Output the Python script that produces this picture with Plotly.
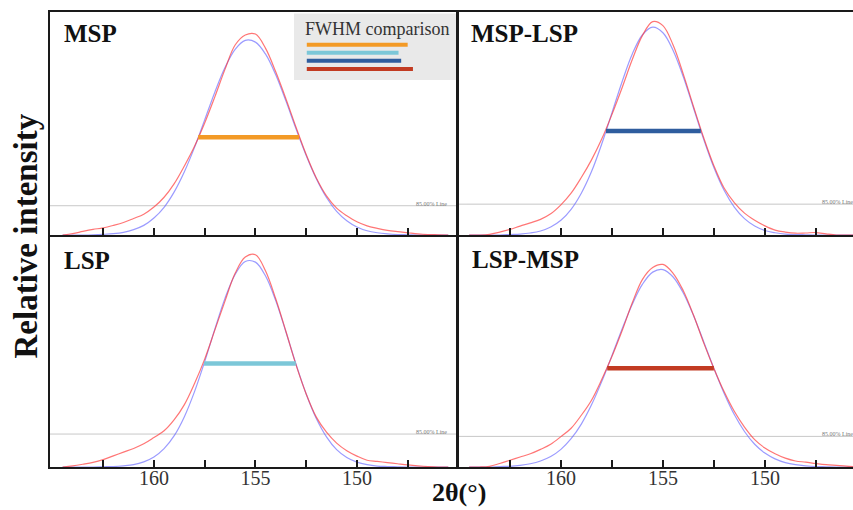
import plotly.graph_objects as go

# 2θ sampling grid (degrees, high to low)
two_theta = [164.5, 164.0, 163.5, 163.0, 162.5, 162.0, 161.5, 161.0, 160.5, 160.0,
             159.5, 159.0, 158.5, 158.0, 157.5, 157.0, 156.5, 156.0, 155.5, 155.0,
             154.5, 154.0, 153.5, 153.0, 152.5, 152.0, 151.5, 151.0, 150.5, 150.0,
             149.5, 149.0, 148.5, 148.0, 147.5, 147.0, 146.5, 146.0, 145.5]

samples = ["MSP", "LSP", "MSP-LSP", "LSP-MSP"]

# measured diffraction profiles (relative intensity)
measured_msp = [0.0, 0.006, 0.016, 0.025, 0.032, 0.043, 0.056, 0.074, 0.093, 0.125,
                0.169, 0.230, 0.309, 0.397, 0.501, 0.618, 0.741, 0.850, 0.895, 0.899,
                0.835, 0.730, 0.610, 0.482, 0.360, 0.255, 0.175, 0.120, 0.086, 0.059,
                0.041, 0.030, 0.021, 0.015, 0.010, 0.005, 0.002, 0.001, 0.0]
measured_lsp = [0.0, 0.005, 0.012, 0.020, 0.032, 0.048, 0.064, 0.080, 0.100, 0.127,
                0.156, 0.204, 0.269, 0.360, 0.465, 0.590, 0.715, 0.835, 0.905, 0.915,
                0.845, 0.725, 0.585, 0.440, 0.315, 0.215, 0.150, 0.103, 0.070, 0.047,
                0.029, 0.024, 0.019, 0.014, 0.009, 0.005, 0.002, 0.0, 0.0]
measured_msp_lsp = [0.0, 0.0, 0.003, 0.013, 0.025, 0.040, 0.054, 0.070, 0.095, 0.135,
                    0.187, 0.257, 0.336, 0.429, 0.539, 0.659, 0.785, 0.893, 0.955, 0.937,
                    0.850, 0.720, 0.575, 0.435, 0.310, 0.210, 0.145, 0.098, 0.066, 0.041,
                    0.022, 0.013, 0.008, 0.009, 0.011, 0.005, 0.0, 0.0, 0.0]
measured_lsp_msp = [0.0, 0.0, 0.003, 0.015, 0.029, 0.043, 0.057, 0.076, 0.098, 0.131,
                    0.167, 0.223, 0.288, 0.377, 0.476, 0.587, 0.708, 0.809, 0.860, 0.873,
                    0.835, 0.760, 0.655, 0.535, 0.425, 0.325, 0.240, 0.172, 0.118, 0.082,
                    0.057, 0.038, 0.026, 0.021, 0.015, 0.010, 0.007, 0.004, 0.0]

# fitted profiles
fitted_msp = [0.0, 0.0, 0.0, 0.001, 0.003, 0.006, 0.012, 0.024, 0.043, 0.076,
              0.124, 0.193, 0.283, 0.392, 0.515, 0.639, 0.749, 0.831, 0.871, 0.863,
              0.809, 0.717, 0.600, 0.475, 0.356, 0.252, 0.168, 0.106, 0.064, 0.036,
              0.019, 0.010, 0.005, 0.002, 0.001, 0.0, 0.0, 0.0, 0.0]
fitted_lsp = [0.0, 0.0, 0.0, 0.0, 0.001, 0.002, 0.005, 0.010, 0.022, 0.043,
              0.079, 0.135, 0.217, 0.325, 0.454, 0.594, 0.727, 0.830, 0.886, 0.883,
              0.823, 0.717, 0.583, 0.443, 0.315, 0.209, 0.130, 0.075, 0.041, 0.021,
              0.010, 0.004, 0.002, 0.001, 0.0, 0.0, 0.0, 0.0, 0.0]
fitted_msp_lsp = [0.0, 0.0, 0.0, 0.0, 0.002, 0.004, 0.009, 0.018, 0.036, 0.066,
                  0.115, 0.187, 0.284, 0.407, 0.546, 0.686, 0.810, 0.896, 0.930, 0.905,
                  0.826, 0.708, 0.568, 0.428, 0.302, 0.200, 0.125, 0.073, 0.040, 0.020,
                  0.010, 0.004, 0.002, 0.001, 0.0, 0.0, 0.0, 0.0, 0.0]
fitted_lsp_msp = [0.0, 0.0, 0.0, 0.002, 0.003, 0.007, 0.014, 0.026, 0.045, 0.076,
                  0.122, 0.185, 0.268, 0.368, 0.480, 0.595, 0.702, 0.788, 0.840, 0.851,
                  0.819, 0.750, 0.653, 0.540, 0.425, 0.318, 0.226, 0.153, 0.098, 0.060,
                  0.035, 0.019, 0.010, 0.005, 0.002, 0.001, 0.0, 0.0, 0.0]

# fitted peak height and FWHM limits (2θ, degrees)
fit_peak = [0.874, 0.892, 0.930, 0.852]
fwhm_start = [157.82, 157.53, 157.79, 157.73]
fwhm_end = [152.85, 153.01, 153.14, 152.50]

# intensity threshold line per sample
threshold_level = [0.131, 0.142, 0.138, 0.132]
threshold_label = "85.00% Line"

tick_vals = [162.5, 160.0, 157.5, 155.0, 152.5, 150.0, 147.5]
tick_text = ["", "160", "", "155", "", "150", ""]

measured = [measured_msp, measured_lsp, measured_msp_lsp, measured_lsp_msp]
fitted = [fitted_msp, fitted_lsp, fitted_msp_lsp, fitted_lsp_msp]
bar_colors = ["#f39a26", "#7cc7d8", "#2f5d9e", "#c23b22"]

W, H = 853, 510
SERIF = "Liberation Serif"
INK = "#1a1a1a"


def fx(p):
    return p / W


def fy(p):
    return 1 - p / H


# axis index per sample: 1 top-left, 3 bottom-left, 2 top-right, 4 bottom-right
axis_of = {"MSP": 1, "LSP": 3, "MSP-LSP": 2, "LSP-MSP": 4}
left_dom = [fx(50), fx(457)]
right_dom = [fx(457.5), 1.0]
top_dom = [fy(235), fy(11.5)]
bot_dom = [fy(467), fy(235)]
left_range = [165.12, 145.07]
right_range = [165.07, 145.68]

fig = go.Figure()

for i, name in enumerate(samples):
    n = axis_of[name]
    xa = "x" if n == 1 else f"x{n}"
    ya = "y" if n == 1 else f"y{n}"
    fig.add_trace(go.Scatter(x=two_theta, y=fitted[i], xaxis=xa, yaxis=ya,
                             mode="lines", line=dict(color="#5a5aff", width=1.2, shape="spline"),
                             opacity=0.6, showlegend=False, hoverinfo="skip"))
    fig.add_trace(go.Scatter(x=two_theta, y=measured[i], xaxis=xa, yaxis=ya,
                             mode="lines", line=dict(color="#ff3c3c", width=1.2, shape="spline"),
                             opacity=0.7, showlegend=False, hoverinfo="skip"))
    half = fit_peak[i] / 2
    fig.add_trace(go.Scatter(x=[fwhm_start[i], fwhm_end[i]], y=[half, half], xaxis=xa, yaxis=ya,
                             mode="lines", line=dict(color=bar_colors[i], width=4.5),
                             showlegend=False, hoverinfo="skip"))

shapes = []
annotations = []

# FWHM comparison box
shapes.append(dict(type="rect", xref="paper", yref="paper",
                   x0=fx(294), x1=fx(456), y0=fy(80), y1=fy(13.5),
                   fillcolor="#e9e9e9", line=dict(width=0), layer="below"))
annotations.append(dict(text="FWHM comparison", xref="paper", yref="paper",
                        x=fx(303), y=fy(28.6), xanchor="left", yanchor="middle",
                        showarrow=False, font=dict(family=SERIF, size=18, color="#333333")))
legend_start = 152.47
legend_rows = [44.7, 52.7, 60.7, 69.0]
for i in range(len(samples)):
    width = fwhm_start[i] - fwhm_end[i]
    shapes.append(dict(type="line", xref="x", yref="paper",
                       x0=legend_start, x1=legend_start - width,
                       y0=fy(legend_rows[i]), y1=fy(legend_rows[i]),
                       line=dict(color=bar_colors[i], width=4)))

for i, name in enumerate(samples):
    n = axis_of[name]
    xs = "x" if n == 1 else f"x{n}"
    ys = "y" if n == 1 else f"y{n}"
    shapes.append(dict(type="line", xref=f"{xs} domain", yref=ys, x0=0, x1=1,
                       y0=threshold_level[i], y1=threshold_level[i],
                       line=dict(color="#c8c8c8", width=1), layer="below"))
    lx = 0.894 if n in (1, 3) else 0.9166
    annotations.append(dict(text=threshold_label, xref=f"{xs} domain", yref=ys,
                            x=lx, y=threshold_level[i], xanchor="left", yanchor="middle",
                            yshift=2, showarrow=False,
                            font=dict(family=SERIF, size=6, color="#777777")))

# panel labels
label_pos = {"MSP": (62, 33.4), "LSP": (62, 260.5), "MSP-LSP": (469, 33.7), "LSP-MSP": (470, 259.7)}
for name in samples:
    px, py = label_pos[name]
    annotations.append(dict(text=f"<b>{name}</b>", xref="paper", yref="paper",
                            x=fx(px), y=fy(py), xanchor="left", yanchor="middle",
                            showarrow=False, font=dict(family=SERIF, size=25, color="#111111")))

annotations.append(dict(text="<b>2θ(°)</b>", xref="paper", yref="paper",
                        x=fx(459), y=fy(492), xanchor="center", yanchor="middle",
                        showarrow=False, font=dict(family=SERIF, size=26, color="#111111")))
annotations.append(dict(text="<b>Relative intensity</b>", xref="paper", yref="paper",
                        x=fx(25), y=fy(236.5), xanchor="center", yanchor="middle",
                        textangle=-90, showarrow=False,
                        font=dict(family=SERIF, size=33, color="#111111")))


def xaxis_cfg(dom, rng, anchor, labels, top):
    return dict(domain=dom, range=rng, anchor=anchor, showgrid=False, zeroline=False,
                showline=True, linecolor=INK, linewidth=2, mirror=top,
                ticks="inside", ticklen=7, tickwidth=1.5, tickcolor=INK,
                tickvals=tick_vals, ticktext=tick_text if labels else [""] * len(tick_vals),
                tickfont=dict(family=SERIF, size=20, color="#333333"),
                ticklabelstandoff=-8)


def yaxis_cfg(dom, anchor, mirror):
    return dict(domain=dom, range=[0, 1], anchor=anchor, showgrid=False, zeroline=False,
                showticklabels=False, ticks="", showline=True, linecolor=INK,
                linewidth=2, mirror=mirror)


fig.update_layout(
    width=W, height=H, margin=dict(l=0, r=0, t=0, b=0),
    paper_bgcolor="white", plot_bgcolor="white", showlegend=False,
    xaxis=xaxis_cfg(left_dom, left_range, "y", False, True),
    yaxis=yaxis_cfg(top_dom, "x", True),
    xaxis2=xaxis_cfg(right_dom, right_range, "y2", False, True),
    yaxis2=yaxis_cfg(top_dom, "x2", False),
    xaxis3=xaxis_cfg(left_dom, left_range, "y3", True, False),
    yaxis3=yaxis_cfg(bot_dom, "x3", True),
    xaxis4=xaxis_cfg(right_dom, right_range, "y4", True, False),
    yaxis4=yaxis_cfg(bot_dom, "x4", False),
    shapes=shapes, annotations=annotations,
)

fig.write_html("out.html")
